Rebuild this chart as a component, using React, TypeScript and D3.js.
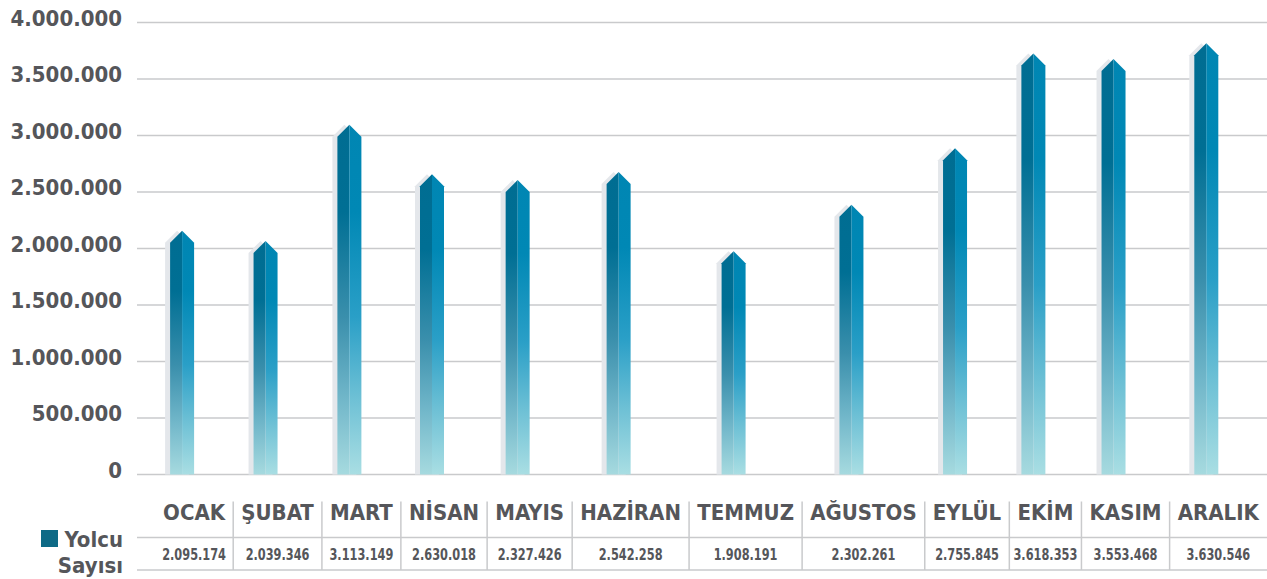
import React, { useEffect, useRef } from 'react';
import * as d3 from 'd3';

// months shown in the table row
const months = ['OCAK', 'ŞUBAT', 'MART', 'NİSAN', 'MAYIS', 'HAZİRAN', 'TEMMUZ', 'AĞUSTOS', 'EYLÜL', 'EKİM', 'KASIM', 'ARALIK'];
// passenger counts printed under each month
const passengers = [2095174, 2039346, 3113149, 2630018, 2327426, 2542258, 1908191, 2302261, 2755845, 3618353, 3553468, 3630546];
// bar body height as drawn in the graphic
const barLevels = [2050000, 1960000, 2990000, 2550000, 2500000, 2570000, 1870000, 2280000, 2780000, 3620000, 3570000, 3710000];
const yTicks = [0, 500000, 1000000, 1500000, 2000000, 2500000, 3000000, 3500000, 4000000];
const seriesName = ['Yolcu', 'Sayısı'];

const W = 1267;
const H = 579;
const FONT = "'DejaVu Sans Condensed', 'DejaVu Sans', sans-serif";
const TEXT = '#55565a';
const LINE = '#c9cacc';

const tr = d3.formatLocale({ decimal: ',', thousands: '.', grouping: [3], currency: ['', ''] });
const fmt = tr.format(',d');

const App = () => {
  const svgRef = useRef<SVGSVGElement | null>(null);

  useEffect(() => {
    const svg = d3.select(svgRef.current);
    svg.selectAll('*').remove();

    const y = d3.scaleLinear().domain([0, 4000000]).range([474.5, 22.5]);
    const gridLeft = 137;
    const tableLeft = 155;

    const defs = svg.append('defs');
    const grad = (id: string, stops: [number, string][]) => {
      const g = defs.append('linearGradient').attr('id', id)
        .attr('x1', 0).attr('x2', 0).attr('y1', 0).attr('y2', 1);
      stops.forEach(([o, c]) => g.append('stop').attr('offset', o).attr('stop-color', c));
    };
    grad('barLeft', [[0, '#006d92'], [0.25, '#006f94'], [0.55, '#3a8fac'], [0.78, '#70b6c9'], [1, '#a6dadf']]);
    grad('barRight', [[0, '#0086b3'], [0.25, '#0088b5'], [0.55, '#2a9fc7'], [0.78, '#6dc0d5'], [1, '#a9dee3']]);

    // gridlines + y labels
    svg.append('g').selectAll('line').data(yTicks).enter().append('line')
      .attr('x1', gridLeft).attr('x2', W)
      .attr('y1', d => y(d)).attr('y2', d => y(d))
      .attr('stroke', LINE).attr('stroke-width', 1.3);

    svg.append('g').selectAll('text').data(yTicks).enter().append('text')
      .attr('x', 122).attr('y', d => y(d) + 3)
      .attr('text-anchor', 'end')
      .style('font-family', FONT).style('font-weight', 'bold').style('font-size', '22px')
      .style('fill', TEXT)
      .text(d => fmt(d));

    // table header texts, measured to size the columns
    const table = svg.append('g');
    const heads = table.selectAll('text.head').data(months).enter().append('text')
      .attr('class', 'head')
      .attr('y', 519.5)
      .attr('text-anchor', 'middle')
      .style('font-family', FONT).style('font-weight', 'bold').style('font-size', '22px')
      .style('fill', TEXT)
      .text(d => d);

    const widths: number[] = [];
    heads.each(function () { widths.push((this as SVGTextElement).getComputedTextLength()); });
    const pad = (W - tableLeft - d3.sum(widths)) / months.length;
    const edges = [tableLeft];
    widths.forEach(w => edges.push(edges[edges.length - 1] + w + pad));
    const centers = months.map((_, i) => (edges[i] + edges[i + 1]) / 2);

    heads.attr('x', (_, i) => centers[i]);

    const vals = table.selectAll('text.val').data(passengers).enter().append('text')
      .attr('class', 'val')
      .attr('x', (_, i) => centers[i]).attr('y', 560)
      .attr('text-anchor', 'middle')
      .style('font-family', FONT).style('font-weight', 'bold').style('font-size', '15px')
      .style('fill', TEXT)
      .text(d => fmt(d));
    // DIN-like narrow figures: squeeze the wider fallback font a bit
    vals.each(function () {
      const el = this as SVGTextElement;
      d3.select(el).attr('textLength', el.getComputedTextLength() * 0.84).attr('lengthAdjust', 'spacingAndGlyphs');
    });

    [537.5, 570].forEach(ly => {
      table.append('line').attr('x1', gridLeft).attr('x2', W).attr('y1', ly).attr('y2', ly)
        .attr('stroke', LINE).attr('stroke-width', 1.5);
    });
    table.selectAll('line.sep').data(edges.slice(1, -1)).enter().append('line')
      .attr('class', 'sep')
      .attr('x1', d => d).attr('x2', d => d).attr('y1', 501.5).attr('y2', 570)
      .attr('stroke', LINE).attr('stroke-width', 1.5);

    // legend
    svg.append('rect').attr('x', 41).attr('y', 530).attr('width', 17).attr('height', 17).attr('fill', '#0e6a86');
    svg.append('g').selectAll('text').data(seriesName).enter().append('text')
      .attr('x', 123).attr('y', (_, i) => 547 + i * 26)
      .attr('text-anchor', 'end')
      .style('font-family', FONT).style('font-weight', 'bold').style('font-size', '22px')
      .style('fill', TEXT)
      .text(d => d);

    // bars
    const bw = 24;
    const tip = 12;
    const base = y(0);
    const bars = svg.append('g').selectAll('g').data(barLevels).enter().append('g');
    const cxOf = (i: number) => centers[i] - 12;

    bars.append('path')
      .attr('d', (d, i) => {
        const cx = cxOf(i) - 5, top = y(d);
        return `M${cx - bw / 2},${base}V${top}L${cx},${top - tip}L${cx + bw / 2},${top}V${base}Z`;
      })
      .attr('fill', '#e4e7eb');

    bars.append('path')
      .attr('d', (d, i) => {
        const cx = cxOf(i), top = y(d);
        return `M${cx - bw / 2},${base}V${top}L${cx},${top - tip}V${base}Z`;
      })
      .attr('fill', 'url(#barLeft)');

    bars.append('path')
      .attr('d', (d, i) => {
        const cx = cxOf(i), top = y(d);
        return `M${cx},${base}V${top - tip}L${cx + bw / 2},${top}V${base}Z`;
      })
      .attr('fill', 'url(#barRight)');
  }, []);

  return (
    <svg
      ref={svgRef}
      width={W}
      height={H}
      style={{ position: 'absolute', left: 0, top: 0, display: 'block', background: '#fff' }}
    />
  );
};

export default App;
